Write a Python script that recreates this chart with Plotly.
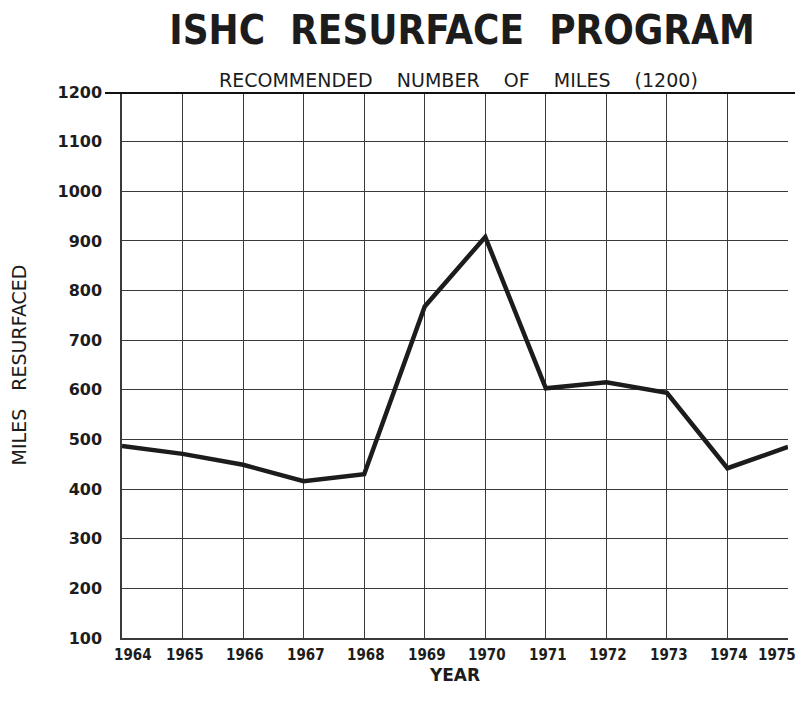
import plotly.graph_objects as go

years = [1964, 1965, 1966, 1967, 1968, 1969, 1970, 1971, 1972, 1973, 1974, 1975]
miles = [487, 471, 449, 416, 430, 768, 908, 603, 615, 594, 442, 485]
recommended = 1200
y_ticks = [100, 200, 300, 400, 500, 600, 700, 800, 900, 1000, 1100, 1200]

ink = "#1c1c1c"
grid = "#3a3a3a"
fontfam = "DejaVu Sans, Arial, sans-serif"
condfam = "DejaVu Sans Condensed, DejaVu Sans, sans-serif"

W, H = 796, 704  # page body adds an 8px margin

fig = go.Figure()
fig.add_trace(go.Scatter(x=years, y=miles, mode="lines",
                         line=dict(color=ink, width=4.5), showlegend=False,
                         hoverinfo="x+y"))

fig.add_shape(type="line", xref="paper", yref="y", x0=-0.0255, x1=1.0105,
              y0=recommended, y1=recommended, line=dict(color="#111", width=4))

fig.add_annotation(x=0.505, xref="paper", y=recommended, yref="y", yshift=12,
                   text=f"RECOMMENDED    NUMBER    OF    MILES    ({recommended})",
                   showarrow=False, font=dict(family=fontfam, size=19, color=ink))

# year labels along the x axis (end labels kept inside the page)
for i, yr in enumerate(years):
    if i == 0:
        anchor, shift = "left", -10
    elif i == len(years) - 1:
        anchor, shift = "right", 10
    else:
        anchor, shift = "center", 2
    fig.add_annotation(x=yr, xref="x", y=0, yref="paper", yanchor="top",
                       xanchor=anchor, xshift=shift, yshift=-6,
                       text=f"<b>{yr}</b>", showarrow=False,
                       font=dict(family=condfam, size=15, color=ink))

fig.update_layout(
    width=W, height=H,
    paper_bgcolor="white", plot_bgcolor="white",
    margin=dict(l=114, r=16, t=84, b=74, autoexpand=False),
    title=dict(text="<b>ISHC  RESURFACE  PROGRAM</b>", x=454 / W, xanchor="center",
               y=1 - 22 / H, yanchor="middle",
               font=dict(family=condfam, size=40, color=ink)),
    font=dict(family=fontfam, color=ink),
)
fig.update_xaxes(range=[1964, 1975], tickvals=years, showticklabels=False,
                 showgrid=True, gridcolor=grid, gridwidth=1,
                 showline=True, linecolor=grid, linewidth=1.5,
                 zeroline=False, ticks="",
                 title=dict(text="<b>YEAR</b>", font=dict(size=17, color=ink), standoff=30))
fig.update_yaxes(range=[100, 1200], tickvals=y_ticks,
                 ticktext=[f"<b>{v}</b>" for v in y_ticks],
                 tickfont=dict(size=16, color=ink),
                 showgrid=True, gridcolor=grid, gridwidth=1,
                 showline=True, linecolor=grid, linewidth=1.5,
                 zeroline=False, ticks="", ticklabelstandoff=15,
                 title=dict(text="MILES   RESURFACED", font=dict(size=19, color=ink), standoff=28))

fig.write_html("out.html")
